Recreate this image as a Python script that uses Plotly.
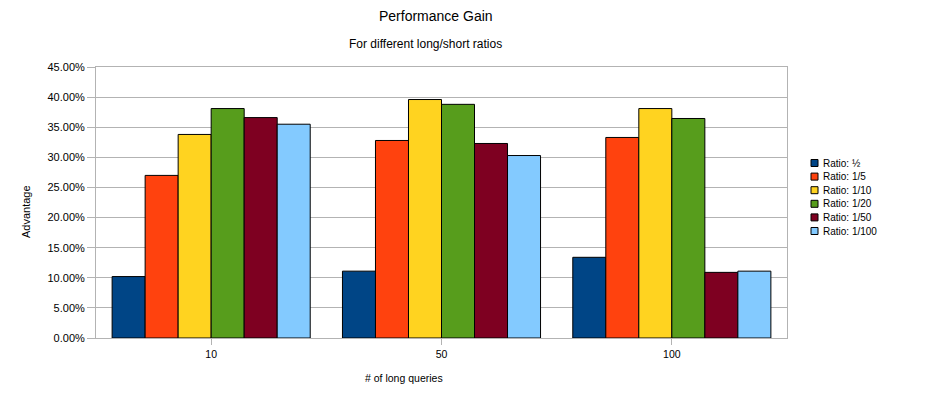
import plotly.graph_objects as go

categories = ["10", "50", "100"]
series_names = ["Ratio: ½", "Ratio: 1/5", "Ratio: 1/10", "Ratio: 1/20", "Ratio: 1/50", "Ratio: 1/100"]
ratio_half = [0.102, 0.111, 0.134]
ratio_1_5 = [0.270, 0.328, 0.333]
ratio_1_10 = [0.338, 0.396, 0.381]
ratio_1_20 = [0.381, 0.388, 0.3645]
ratio_1_50 = [0.366, 0.323, 0.109]
ratio_1_100 = [0.355, 0.303, 0.111]
series_values = [ratio_half, ratio_1_5, ratio_1_10, ratio_1_20, ratio_1_50, ratio_1_100]
colors = ["#004586", "#ff420e", "#ffd320", "#579d1c", "#7e0021", "#83caff"]

W, H = 929, 403
L, R, T, B = 96, 787, 67, 338
FONT = "Liberation Sans, Arial, sans-serif"


def px(x):
    return (x - L) / (R - L)


def py(y):
    return (B - y) / (B - T)


fig = go.Figure()
for name, vals, col in zip(series_names, series_values, colors):
    fig.add_trace(go.Bar(
        x=categories, y=vals, name=name,
        marker=dict(color=col, line=dict(color="#000000", width=1)),
        showlegend=False,
    ))

annotations = [
    dict(text="Performance Gain", x=px(436), y=py(16), xref="paper", yref="paper",
         showarrow=False, font=dict(size=14, color="#000000", family=FONT), xanchor="center", yanchor="middle"),
    dict(text="For different long/short ratios", x=px(425), y=py(44), xref="paper", yref="paper",
         showarrow=False, font=dict(size=12, color="#000000", family=FONT), xanchor="center", yanchor="middle"),
    dict(text="# of long queries", x=px(404), y=py(378), xref="paper", yref="paper",
         showarrow=False, font=dict(size=10.5, color="#000000", family=FONT), xanchor="center", yanchor="middle"),
    dict(text="Advantage", x=px(26), y=py(212), xref="paper", yref="paper", textangle=-90,
         showarrow=False, font=dict(size=11, color="#000000", family=FONT), xanchor="center", yanchor="middle"),
]
shapes = []
legend_y0 = 163
legend_step = 13.6
for i, (name, col) in enumerate(zip(series_names, colors)):
    yc = legend_y0 + i * legend_step
    shapes.append(dict(type="rect", xref="paper", yref="paper",
                       x0=px(811), x1=px(818), y0=py(yc - 3.5), y1=py(yc + 3.5),
                       fillcolor=col, line=dict(color="#000000", width=1)))
    annotations.append(dict(text=name, x=px(821), y=py(yc), xref="paper", yref="paper",
                            showarrow=False, font=dict(size=10, color="#000000", family=FONT),
                            xanchor="left", yanchor="middle"))

fig.update_layout(
    width=W, height=H,
    margin=dict(l=L, r=W - R, t=T, b=H - B, pad=0),
    paper_bgcolor="#ffffff", plot_bgcolor="#ffffff",
    barmode="group", bargap=0.14, bargroupgap=0,
    showlegend=False,
    annotations=annotations, shapes=shapes,
    font=dict(family=FONT, color="#000000"),
)
fig.update_xaxes(
    type="category", showline=True, linecolor="#b3b3b3", linewidth=1, mirror=True,
    ticks="outside", ticklen=6, tickcolor="#b3b3b3", showgrid=False,
    tickfont=dict(size=10.5, color="#000000", family=FONT),
)
fig.update_yaxes(
    range=[0, 0.45], dtick=0.05, tickformat=".2%",
    showline=True, linecolor="#b3b3b3", linewidth=1, mirror=True,
    showgrid=True, gridcolor="#b3b3b3", gridwidth=1, zeroline=False,
    ticks="outside", ticklen=8, tickcolor="#b3b3b3",
    tickfont=dict(size=11, color="#000000", family=FONT),
)

fig.write_html("out.html", config={"displayModeBar": False},
               post_script="document.body.style.margin='0';")
